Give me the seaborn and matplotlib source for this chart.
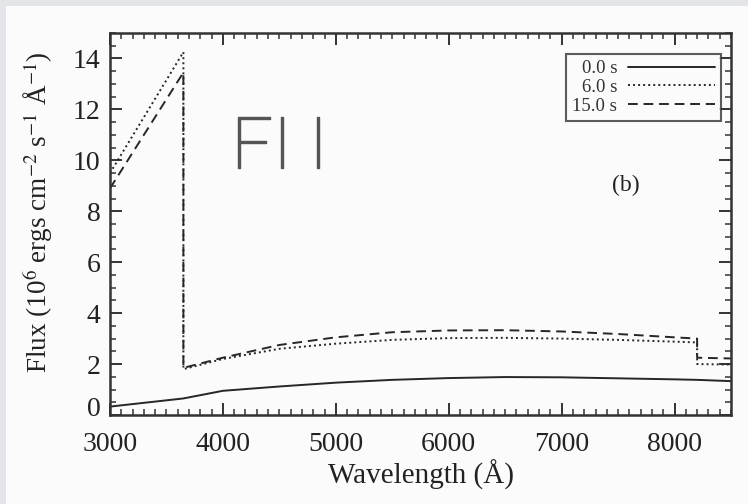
import numpy as np
import pandas as pd
import matplotlib
matplotlib.use("Agg")
import matplotlib.pyplot as plt
import matplotlib.transforms as mtrans
import matplotlib.patheffects as pe
from matplotlib.ticker import MultipleLocator
from matplotlib.patches import Rectangle
import seaborn as sns

# Wavelength grids (Angstrom) and model fluxes (10^6 ergs cm^-2 s^-1 A^-1)
wave_0s = [3000, 3650, 4000, 4500, 5000, 5500, 6000, 6500, 7000, 7500, 8000, 8200, 8500]
flux_0s = [0.33, 0.65, 0.95, 1.12, 1.27, 1.38, 1.45, 1.49, 1.48, 1.44, 1.40, 1.38, 1.33]

wave_6s = [3000, 3650, 3650, 4000, 4500, 5000, 5500, 6000, 6500, 7000, 7500, 8000, 8200, 8200, 8500]
flux_6s = [9.5, 14.25, 1.80, 2.20, 2.60, 2.80, 2.95, 3.02, 3.03, 3.00, 2.95, 2.88, 2.85, 2.00, 1.98]

wave_15s = [3000, 3650, 3650, 4000, 4500, 5000, 5500, 6000, 6500, 7000, 7500, 8000, 8200, 8200, 8500]
flux_15s = [8.9, 13.45, 1.85, 2.25, 2.75, 3.05, 3.25, 3.32, 3.33, 3.28, 3.18, 3.05, 3.00, 2.25, 2.22]

labels = ["0.0 s", "6.0 s", "15.0 s"]

frames = []
for lab, w, f in zip(labels, [wave_0s, wave_6s, wave_15s], [flux_0s, flux_6s, flux_15s]):
    frames.append(pd.DataFrame({"wave": w, "flux": f, "time": lab}))
df = pd.concat(frames, ignore_index=True)

sns.set_theme(style="ticks")
plt.rcParams["font.family"] = ["Liberation Serif", "DejaVu Serif"]
plt.rcParams["mathtext.fontset"] = "stix"

fig = plt.figure(figsize=(7.48, 5.04), dpi=100)
fig.patch.set_facecolor("#e4e5e9")
fig.patches.append(Rectangle((6 / 748, 0), 1, (504 - 6) / 504, transform=fig.transFigure,
                             facecolor="#fbfbfb", edgecolor="none", zorder=-1))

ax = fig.add_axes([110 / 748, (504 - 415) / 504, 621 / 748, 382 / 504])
ax.set_facecolor("#fbfbfb")

line_color = "#262626"
styles = {"0.0 s": "-", "6.0 s": (0, (1, 1.6)), "15.0 s": (0, (5, 3))}
for lab in labels:
    sub = df[df["time"] == lab]
    sns.lineplot(data=sub, x="wave", y="flux", estimator=None, sort=False,
                 color=line_color, linewidth=1.4, linestyle=styles[lab],
                 label=lab, ax=ax)

ax.set_xlim(3000, 8500)
ax.set_ylim(0, 15)
ax.xaxis.set_major_locator(MultipleLocator(1000))
ax.xaxis.set_minor_locator(MultipleLocator(100))
ax.yaxis.set_minor_locator(MultipleLocator(0.5))
ax.set_yticks(np.arange(0, 15, 2))

ax.tick_params(which="both", direction="in", top=True, right=True,
               color="#333333", labelsize=20, labelcolor="#222222")
ax.tick_params(which="major", length=8.5, width=1.4)
ax.tick_params(which="minor", length=4.5, width=1.1)
ax.tick_params(axis="x", which="major", pad=12)
ax.tick_params(axis="y", which="major", pad=7)
for sp in ax.spines.values():
    sp.set_visible(True)
    sp.set_color("#333333")
    sp.set_linewidth(1.8)

ax.set_xlabel("Wavelength (Å)", fontsize=21, color="#222222", labelpad=2)
ax.set_ylabel("Flux (10$^6$ ergs cm$^{-2}$ s$^{-1}$ Å$^{-1}$)", fontsize=19.5,
              color="#222222")
ax.yaxis.set_label_coords(-0.088, 0.53)

leg = ax.legend(loc="upper right", bbox_to_anchor=(0.984, 0.946), markerfirst=False,
                frameon=True, fancybox=False, fontsize=13.5, handlelength=4.6,
                handletextpad=0.6, labelspacing=0.08, borderpad=0.35, borderaxespad=0)
leg.get_frame().set_edgecolor("#333333")
leg.get_frame().set_linewidth(1.5)
leg.get_frame().set_facecolor("#fbfbfb")
for t in leg.get_texts():
    t.set_color("#333333")

ax.text(0.83, 0.60, "(b)", transform=ax.transAxes, fontsize=17, color="#222222",
        ha="center", va="center")

# overlay lettering
stroke = [pe.withStroke(linewidth=1.0, foreground="#555555")]
fig.text(231 / 748, 1 - 168 / 504, "FI I", fontsize=52, color="#555555", fontweight="light",
         family=["Roboto", "DejaVu Sans"], ha="left", va="baseline", path_effects=stroke)

# lift the zero label clear of the x tick labels
zero_lab = ax.yaxis.get_major_ticks()[0].label1
zero_lab.set_transform(zero_lab.get_transform()
                       + mtrans.ScaledTranslation(0, 8 / 100, fig.dpi_scale_trans))

fig.savefig("out.png", dpi=100, facecolor=fig.get_facecolor())
